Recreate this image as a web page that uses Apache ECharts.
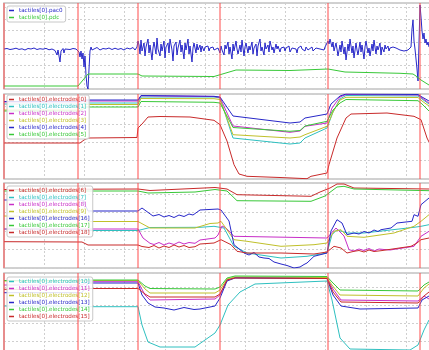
<!DOCTYPE html>
<html>
<head>
<meta charset="utf-8">
<script src="https://cdn.jsdelivr.net/npm/echarts@6/dist/echarts.min.js"></script>
<style>
html, body { margin: 0; padding: 0; background: #fff; overflow: hidden; }
/* the plot runs past the right and bottom edges of the window, as in the original screenshot */
#chart { width: 440px; height: 365px; }
</style>
</head>
<body>
<div id="chart"></div>
<script>
// x in samples, values in raw sensor counts (relative to each panel's floor)
const markers = [0, 74, 134, 216, 324, 416]

const pac0 = [
	[0,40],[3,40.5],[6,39.5],[9,40],[12,40.8],[15,39.6],[18,40.2],[21,39],[24,40.5],[27,40],[30,41],[33,39.5],[36,40.3],[39,39.8],[42,40.6],[45,39.2],[48,40],[51,38.5],[53,34],[54,39],[56,27],[57,38],[59,40.5],[60,36],[61,40],[63,41.5],[66,39.5],[69,40.5],[72,40],[74,41],
	[75,37],[76,32],[77,38],[78,30],[79,36],[80,22],[81,33],[82,14],[83,3],[84,0],[85,20],[86,38],[87,42],[88,39],
	[90,40],[93,41.5],[96,39],[99,40.5],[102,40],[105,41],[108,39.5],[111,40.8],[114,39.6],[117,40.5],[120,39],[123,41],[126,40],[129,41.5],[131,39],[133,42],
	[134,48],[135,44],[136,35],[137,49],[138,38],[140,46],[141,33],[142,42],[144,50],[145,36],[146,44],[148,29],[149,41],[150,47],[152,35],[153,51],[154,40],[156,33],[157,45],[158,38],[160,48],[161,31],[162,42],[164,46],[165,36],[166,50],[168,39],[169,28],[170,43],[172,47],[173,34],[174,41],[176,49],[177,37],[178,44],[180,30],[181,46],[182,39],[184,50],[185,35],[186,43],[188,27],[189,41],[190,46],[192,36],[193,45],[194,39],[196,44],[197,37],[198,43],[200,38],[201,42],[202,40],[204,43],[205,38],[206,41],[208,40],[209,42],[210,39],
	[212,38],[214,41],[216,36],[217,43],[218,39],[220,34],[221,44],[222,40],[224,47],[225,35],[226,42],[228,30],[229,45],[230,38],[232,48],[233,40],[234,35],[236,44],[237,37],[238,49],[240,33],[241,42],[242,46],[244,36],[245,43],[246,39],[248,47],[249,35],[250,41],[252,45],[253,33],[254,43],[256,50],[257,38],[258,42],[260,34],[261,46],[262,40],[264,44],[265,37],[266,48],[268,39],[269,42],[270,36],[272,45],[273,40],[274,43],[276,37],[277,41],[278,39],[280,42],[281,38],[282,41],[284,40],[285,43],[286,37],[288,41],[289,39],[290,42],[292,40],[293,36],[294,41],[296,39],[297,43],[298,40],[300,41],[301,38],[302,42],[304,39],[305,41],[306,40],[308,42],[309,38],[310,40],[312,41],[313,39],[314,42],[316,40],[317,38],[318,41],[320,39],[321,42],[322,40],[323,44],
	[324,48],[325,45],[326,50],[328,42],[329,47],[330,38],[332,46],[333,40],[334,33],[336,44],[337,37],[338,48],[340,35],[341,42],[342,29],[344,45],[345,38],[346,50],[348,36],[349,43],[350,31],[352,46],[353,39],[354,34],[356,47],[357,37],[358,44],[360,30],[361,42],[362,48],[364,36],[365,41],[366,33],[368,45],[369,38],[370,49],[372,35],[373,43],[374,39],[376,46],[377,34],[378,42],[380,37],[381,44],[382,40],[384,43],[385,38],[386,41],[388,39],[389,42],[390,40],[392,41],[393,39],[394,40],[396,39],[398,41],[400,38],[402,40],[404,39],[406,41],[407,42],[408,60],[409,69],[410,48],[411,40],[412,30],[413,20],[414,8],[415,6],[416,84],[417,72],[418,58],[419,50],[420,56],[421,46],[422,50],[423,44],[424,47],[425,42]
]
const pdc = [[0,3],[74,3],[84,15],[134,15],[138,13],[210,12.5],[232,19],[286,18.5],[324,20],[341,17],[396,15.7],[409,15],[412,13],[414,14],[417,9],[425,4]]

const el0 = [[0,36],[76,36],[80,39],[84,41],[133,41.5],[134,51],[138,55],[144,62],[156,62.5],[186,62],[210,58.7],[216,54.3],[223,38],[230,14.3],[235,5],[243,2.7],[276,1.5],[303,0.3],[307,2.7],[323,6],[325,14.3],[333,41],[342,61],[347,65],[383,66],[410,62.7],[417,59.3],[423,41],[425,37]]
const el1 = [[0,75],[76,75],[82,76],[134,76],[137,82],[210,82],[216,81],[229,41],[286,35],[296,36],[301,41],[323,51],[329,67],[336,80],[342,83.5],[414,83],[418,80],[425,75]]
const el2 = [[0,77],[76,77],[82,78],[134,78],[137,83.2],[210,82.5],[216,81.5],[229,53],[286,46.7],[296,48],[301,52.7],[323,56],[328,71],[336,82],[342,84.5],[414,84],[418,81],[425,76]]
const el3 = [[0,69],[76,69],[82,74.5],[134,74.5],[137,80.5],[210,80.3],[216,79.5],[229,44.3],[286,41],[296,42],[301,44.3],[323,52.7],[329,67],[336,79],[342,81.7],[414,81.5],[418,78],[425,73]]
const el4 = [[0,77.5],[76,77.5],[82,79],[134,79],[137,83.5],[210,82.7],[216,82],[229,63],[286,56],[296,57],[301,61],[323,65],[327,75],[336,83],[342,85],[414,84.5],[418,82],[425,78]]
const el5 = [[0,68],[76,68],[82,72],[134,72],[137,77.5],[210,76.7],[216,76],[229,51.5],[286,47.7],[296,48.5],[301,53],[323,57.7],[329,69],[336,76],[342,79.5],[414,78.3],[418,75],[425,68]]

const el6 = [[0,78.5],[134,79],[146,77.5],[211,80.5],[223,79],[233,73.3],[307,71.7],[316,76],[326,80],[333,84],[340,84],[350,80],[425,79]]
const el7 = [[0,39],[78,38.5],[84,37.5],[134,37.5],[146,40.5],[196,40.7],[210,41.7],[220,40],[230,21.7],[243,15],[277,10],[303,11.7],[323,15],[328,33.3],[333,38.3],[343,35],[360,35],[410,40.7],[417,41.7],[425,43.3]]
const el8 = [[0,39],[78,39],[84,39],[134,39],[139,30],[146,24.7],[150,23.5],[155,25.5],[160,23],[165,25],[170,23.5],[175,26],[180,24],[185,25.5],[191,24.7],[196,28],[211,30],[214,33],[218,42],[222,40],[230,31.7],[323,30],[332,40],[340,32],[345,18.3],[350,17],[355,19],[360,17.5],[365,19.5],[370,17],[375,19],[380,18.5],[386,18],[410,21.7],[417,31.7],[425,36.7]]
const el9 = [[0,52],[78,51],[84,46.5],[134,46.5],[146,40],[191,40],[206,44.5],[214,45],[217,46.7],[230,28.3],[243,26.7],[277,21.7],[310,23.3],[323,25],[330,36.7],[337,38.3],[343,31.7],[360,30.7],[390,35],[410,41.7],[417,46.7],[425,53.3]]
const el16 = [[0,68],[79,68],[84,57],[134,57],[138,60],[149,52],[155,53.5],[160,51],[165,52.5],[170,50.5],[175,53],[180,51.5],[185,54],[189,53],[196,58],[214,59],[217,58],[225,47],[230,23.3],[240,15],[245,13],[250,15.5],[255,11],[260,10],[265,9.5],[270,6],[277,4],[283,2.5],[290,0],[296,1],[300,3.5],[303,5],[310,11.7],[323,15],[327,37],[333,48.3],[338,45],[343,33.3],[350,35],[355,34],[360,36.5],[365,35],[370,38],[374,36.5],[377,38.3],[387,40],[393,45],[408,46.7],[410,53.3],[414,51.7],[417,63.3],[425,70]]
const el17 = [[0,77],[134,77],[144,75],[191,76],[211,78.5],[223,77],[233,67.3],[307,66.7],[321,72],[333,81],[340,81.7],[350,79],[425,77.3]]
const el18 = [[0,26.3],[78,26],[84,23],[134,23],[138,21.5],[145,20.5],[150,22.5],[155,20],[160,22],[165,20.5],[170,23],[175,21],[180,22.5],[185,20.5],[191,21.3],[196,24],[210,25],[217,28.3],[227,23.3],[233,16.7],[243,15],[277,15],[310,14],[323,16],[330,21.7],[337,20],[343,15],[350,16.7],[355,17.5],[360,16],[365,18],[370,16.5],[377,17.3],[407,21.7],[413,25],[417,28.3],[425,30]]

const el10 = [[0,53],[78,53],[84,52.3],[134,52.3],[138,34],[144,17],[156,12],[191,12],[201,19],[211,26],[216,34],[224,54],[236,67],[251,75],[323,78],[328,59],[336,21],[346,10],[406,9],[414,14],[420,29],[425,39]]
const el11 = [[0,74],[78,74],[84,77.3],[134,77.3],[141,64],[146,59],[211,60],[216,64],[223,79],[231,81.5],[323,81],[329,70],[337,59],[414,58],[420,63],[425,60]]
const el12 = [[0,78],[78,78],[84,78.5],[134,78.5],[141,70],[146,66],[211,66],[216,69],[223,80],[231,82],[323,81.5],[328,74],[336,64],[414,63],[420,71],[425,75]]
const el13 = [[0,66.3],[78,66.3],[84,76],[134,76],[138,64],[144,56],[151,52],[160,51],[170,49],[180,51.5],[190,49.5],[196,50],[211,53],[216,61],[223,78],[231,81],[323,80.5],[329,64],[337,53],[356,50],[414,51],[418,59],[425,63]]
const el14 = [[0,78.5],[78,78.5],[84,79],[134,79],[141,73],[146,70.5],[211,70],[216,72],[223,81],[231,83],[323,82.5],[328,77],[336,69],[414,68],[420,74],[425,77]]
const el15 = [[0,69.7],[78,69.7],[84,70.5],[134,70.5],[141,65],[146,62],[211,62],[216,65],[223,79],[231,81],[323,80.5],[329,67],[337,57],[414,56],[420,63],[425,67]]

const BLUE = '#2727c8', GREEN = '#38c838', RED = '#c82a2a', CYAN = '#2ec0c0', MAGENTA = '#c82ec8', YELLOW = '#c0c02a'

const panels = [
	{ top: 3, height: 86, step: 11.7, legendTop: 6, lines: [
		['tactiles[0].pac0', pac0, BLUE], ['tactiles[0].pdc', pdc, GREEN]] },
	{ top: 94, height: 85, step: 18.3, legendTop: 95, lines: [
		['tactiles[0].electrodes[0]', el0, RED], ['tactiles[0].electrodes[1]', el1, CYAN],
		['tactiles[0].electrodes[2]', el2, MAGENTA], ['tactiles[0].electrodes[3]', el3, YELLOW],
		['tactiles[0].electrodes[4]', el4, BLUE], ['tactiles[0].electrodes[5]', el5, GREEN]] },
	{ top: 183, height: 85, step: 18.5, legendTop: 186, lines: [
		['tactiles[0].electrodes[6]', el6, RED], ['tactiles[0].electrodes[7]', el7, CYAN],
		['tactiles[0].electrodes[8]', el8, MAGENTA], ['tactiles[0].electrodes[9]', el9, YELLOW],
		['tactiles[0].electrodes[16]', el16, BLUE], ['tactiles[0].electrodes[17]', el17, GREEN],
		['tactiles[0].electrodes[18]', el18, RED]] },
	{ top: 273, height: 86, step: 18, legendTop: 277, lines: [
		['tactiles[0].electrodes[10]', el10, CYAN], ['tactiles[0].electrodes[11]', el11, MAGENTA],
		['tactiles[0].electrodes[12]', el12, YELLOW], ['tactiles[0].electrodes[13]', el13, BLUE],
		['tactiles[0].electrodes[14]', el14, GREEN], ['tactiles[0].electrodes[15]', el15, RED]] }
]

const dotted = { show: true, lineStyle: { color: '#cfcfcf', width: 1, type: [2, 2] } }

const option = {
	animation: false,
	backgroundColor: '#fff',
	grid: panels.map(p => ({
		left: 4, width: 434, top: p.top, height: p.height,
		show: true, borderColor: '#c2c2c2', borderWidth: 1.5, backgroundColor: '#fff'
	})),
	xAxis: panels.map((p, i) => ({
		type: 'value', gridIndex: i, min: 0, max: 434, interval: 40.2,
		axisLabel: { show: false }, axisTick: { show: false }, axisLine: { show: false },
		splitLine: dotted
	})),
	yAxis: panels.map((p, i) => ({
		type: 'value', gridIndex: i, min: 0, max: p.height, interval: p.step,
		axisLabel: { show: false }, axisTick: { show: false }, axisLine: { show: false },
		splitLine: dotted
	})),
	legend: panels.map(p => ({
		orient: 'vertical', left: 7, top: p.legendTop,
		data: p.lines.map(l => ({ name: l[0], textStyle: { color: l[2] } })),
		icon: 'rect', itemWidth: 5, itemHeight: 1.5, itemGap: 0,
		padding: [1, 3, 1, 2],
		backgroundColor: 'rgba(255,255,255,0.85)', borderColor: '#c8c8c8', borderWidth: 1, borderRadius: 2,
		textStyle: { fontSize: 5.6, lineHeight: 7, fontFamily: 'DejaVu Sans' },
		selectedMode: false
	})),
	series: []
}

panels.forEach((p, i) => {
	p.lines.forEach((l, k) => {
		const s = {
			name: l[0], type: 'line', xAxisIndex: i, yAxisIndex: i,
			data: l[1], showSymbol: false, symbol: 'none', silent: true,
			lineStyle: { color: l[2], width: 1 }, itemStyle: { color: l[2] }
		}
		if (k === 0) {
			s.markLine = {
				silent: true, symbol: 'none', label: { show: false },
				lineStyle: { color: 'rgba(255,70,70,0.65)', width: 1.5, type: 'solid' },
				data: markers.map(x => ({ xAxis: x }))
			}
		}
		option.series.push(s)
	})
})

const chart = echarts.init(document.getElementById('chart'))
chart.setOption(option)
</script>
</body>
</html>
